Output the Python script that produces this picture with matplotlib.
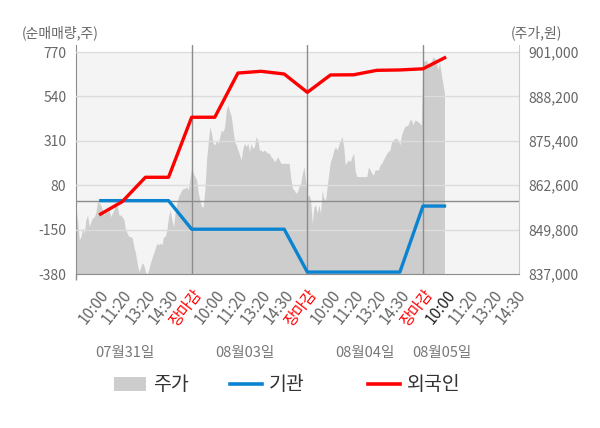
import numpy as np
import matplotlib.pyplot as plt
from matplotlib.patches import Patch
from matplotlib.lines import Line2D

plt.rcParams['font.family'] = ['Noto Sans CJK KR', 'DejaVu Sans']
plt.rcParams['axes.unicode_minus'] = False

# x축: 하루 = 5칸 (장마감이 날짜 경계)
tick_labels = ["10:00", "11:20", "13:20", "14:30", "장마감"] * 3 + ["10:00", "11:20", "13:20", "14:30"]
dates = ["07월31일", "08월03일", "08월04일", "08월05일"]
date_pos = [2.1, 7.3, 12.5, 15.8]

# 누적 순매매량 (주), 10:00부터 한 칸씩
flow_x = list(range(1, 17))
inst = [0, 0, 0, 0, -148, -148, -148, -148, -148, -370, -370, -370, -370, -370, -28, -28]
foreign = [-74, -5, 121, 121, 432, 432, 661, 670, 656, 561, 651, 652, 675, 677, 683, 744]

# 주가 (원), 일별 분봉
price_d1 = [856000, 852100, 846800, 847800, 850300, 848800, 852600, 854000, 850600, 852100,
            853100, 853500, 854600, 857800, 857500, 856900, 855500, 854000, 855000, 854600,
            855500, 853500, 854600, 855500, 856900, 856400, 854000, 854000, 853500, 852600,
            849700, 848800, 847800, 847800, 847400, 844900, 843100, 840200, 837700, 838700,
            840200, 839600, 837700, 837000, 838200, 840200, 841600, 843100, 844500, 845900,
            845400, 845900, 845400, 847800, 847800, 849700, 853500, 855500, 852600, 850600,
            854600, 857400, 859300, 860300, 861200, 861700, 861700, 862200, 861200]
price_d2 = [867900, 866000, 865100, 864100, 860300, 858300, 856400, 856400, 861200, 869900,
            874700, 879500, 877600, 874700, 874200, 875600, 874700, 876600, 878500, 878000,
            879500, 884300, 885700, 883800, 882400, 878500, 875100, 874200, 872700, 871300,
            869900, 873200, 874700, 873700, 874700, 872300, 874700, 873200, 873700, 876600,
            875600, 872700, 872700, 872300, 872700, 872300, 871800, 871800, 870800, 870400,
            869400, 869900, 870800, 869900, 868900, 868900, 868900, 868900, 868900, 868900,
            864600, 861700, 861200, 860300, 860700, 862200, 863100, 866000, 867900]
price_d3 = [859300, 859800, 858300, 851600, 856400, 856900, 854500, 856900, 854500, 861200,
            858800, 858300, 862200, 866000, 869400, 870800, 872700, 873700, 872700, 874200,
            875600, 876600, 873700, 868400, 869400, 869900, 869400, 870800, 871800, 866500,
            865100, 865100, 865100, 865100, 865100, 865100, 865100, 867900, 867000, 866000,
            865500, 867000, 867000, 867000, 868400, 868900, 869900, 870800, 871800, 872300,
            872700, 875100, 875600, 876100, 876100, 875600, 874200, 877100, 878500, 879500,
            879700, 880000, 881400, 881400, 880000, 881400, 881200, 880900, 880400, 880000]
price_d4 = [898700, 898200, 898700, 897700, 896800, 898200, 899600, 899200, 898700, 895800,
            898200, 894900, 892000, 889100]

net_ticks = [-380, -150, 80, 310, 540, 770]
price_ticks = [837000, 849800, 862600, 875400, 888200, 901000]

step = 5 / 70
px, py = [], []
for d, vals in enumerate([price_d1, price_d2, price_d3, price_d4]):
    px += list(d * 5 + np.arange(len(vals)) * step)
    py += vals

fig = plt.figure(figsize=(6, 4.28), dpi=100)
ax = fig.add_axes([76 / 600, 1 - 274 / 428, (519 - 76) / 600, (274 - 45) / 428])
ax2 = ax.twinx()

ax.set_xlim(0, 19.15)
ax.set_ylim(837000, 901000 + 7 * 64000 / 222)
ax2.set_ylim(-380, 770 + 7 * 1150 / 222)

ax.axhspan(837000, 901000, color='#f4f4f4', lw=0, zorder=0)
ax.fill_between(px, py, 837000, color='#cdcdcd', lw=0, zorder=1)

for v in net_ticks[1:]:
    ax2.axhline(v, color='#dcdcdc', lw=1, zorder=1)
ax2.axhline(0, color='#8c8c8c', lw=1, zorder=2)
for v in [5, 10, 15]:
    ax2.axvline(v, color='#8c8c8c', lw=1, zorder=2)

ax2.plot(flow_x, inst, color='#0a84d0', lw=2.4, zorder=3, solid_capstyle='butt')
ax2.plot(flow_x, foreign, color='#ff0000', lw=2.4, zorder=4, solid_capstyle='butt')

# y축 눈금
ax.yaxis.tick_right()
ax.set_yticks(price_ticks)
ax.set_yticklabels([f"{v:,}" for v in price_ticks])
ax.tick_params(axis='y', length=0, pad=7, labelsize=10, labelcolor='#666666')
ax2.yaxis.tick_left()
ax2.set_yticks(net_ticks)
ax2.tick_params(axis='y', length=0, pad=7, labelsize=10, labelcolor='#666666')

# x축 눈금
ax.set_xticks(range(1, 20))
ax.set_xticklabels(tick_labels, rotation=52, ha='right', va='top', rotation_mode='anchor')
ax.set_xticks([0, 5, 10, 15], minor=True)
ax.tick_params(axis='x', which='major', length=0, pad=9, labelsize=11, labelcolor='#666666')
ax.tick_params(axis='x', which='minor', length=4, color='#8c8c8c', width=1)
for i, lab in enumerate(ax.get_xticklabels()):
    if tick_labels[i] == "장마감":
        lab.set_color('#ff0000')
    elif i == 15:
        lab.set_color('#222222')

for s in ax2.spines.values():
    s.set_visible(False)
ax.spines['top'].set_visible(False)
ax.spines['left'].set_color('#8c8c8c')
ax.spines['bottom'].set_color('#8c8c8c')
ax.spines['right'].set_color('#cccccc')

# 날짜 라벨 (x는 데이터 위치, y는 figure 좌표)
to_fig = fig.transFigure.inverted()
for p, t in zip(date_pos, dates):
    x_fig = to_fig.transform(ax.transData.transform((p, 837000)))[0]
    fig.text(x_fig, 1 - 353 / 428, t, ha='center', va='center', fontsize=10.5, color='#777777')

fig.text(22 / 600, 1 - 33 / 428, "(순매매량,주)", ha='left', va='center', fontsize=10, color='#666666')
fig.text(562 / 600, 1 - 33 / 428, "(주가,원)", ha='right', va='center', fontsize=10, color='#666666')

# 범례 (항목별 위치)
legend_items = [
    (Patch(facecolor='#cdcdcd', edgecolor='none'), "주가", 114),
    (Line2D([], [], color='#0a84d0', lw=2.6), "기관", 230),
    (Line2D([], [], color='#ff0000', lw=2.6), "외국인", 368),
]
for h, lab, x0 in legend_items:
    leg = fig.legend([h], [lab], loc='center left', bbox_to_anchor=(x0 / 600, 1 - 385 / 428),
                     frameon=False, fontsize=14, handlelength=1.65, handleheight=0.75,
                     handletextpad=0.35, borderpad=0, borderaxespad=0)
    for t in leg.get_texts():
        t.set_color('#333333')

fig.savefig("out.png", dpi=100)
